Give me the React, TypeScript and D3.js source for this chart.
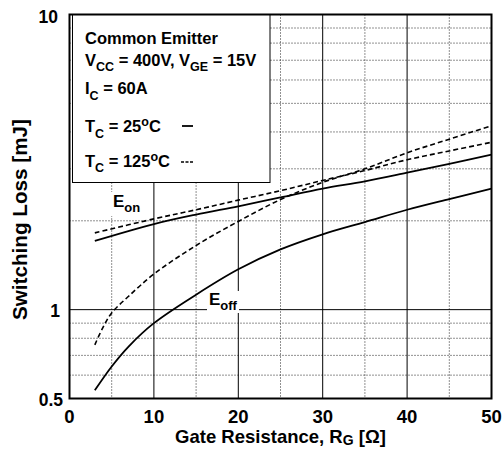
import React from "react";
import * as d3 from "d3";

const W = 503;
const H = 458;

// Data
const rgOn = [3, 10, 15, 20, 25, 30, 35, 40, 45, 50];
const eon25 = [1.71, 1.95, 2.1, 2.24, 2.4, 2.57, 2.72, 2.91, 3.12, 3.35];
const eon125 = [1.82, 2.03, 2.18, 2.35, 2.53, 2.74, 2.96, 3.22, 3.45, 3.69];

const rgOff125 = [3, 4, 5, 7, 10, 15, 20, 25, 30, 35, 40, 45, 50];
const eoff125 = [0.76, 0.875, 0.975, 1.11, 1.32, 1.65, 1.99, 2.36, 2.7, 3.0, 3.4, 3.78, 4.2];

const rgOff25 = [3, 5, 7, 10, 15, 20, 25, 30, 35, 40, 45, 50];
const eoff25 = [0.533, 0.642, 0.75, 0.9, 1.124, 1.37, 1.6, 1.8, 1.98, 2.18, 2.37, 2.57];

const xTicks = [0, 10, 20, 30, 40, 50];
const xMinorGrid = [5, 15, 25, 35, 45];
const yTickLabels = [0.5, 1, 10];
const yMinorGrid = [0.6, 0.7, 0.8, 0.9, 2, 3, 4, 5, 6, 7, 8, 9];
const yMajorGrid = [1];

const FONT = "Arial, 'Liberation Sans', Helvetica, sans-serif";

const x = d3.scaleLinear().domain([0, 50]).range([69.5, 491.5]);
const y = d3.scaleLog().domain([0.5, 10]).range([398.5, 14.5]);

const line = (xs: number[], ys: number[]) =>
  d3
    .line<number>()
    .x((_, i) => x(xs[i]))
    .y((d) => y(d))
    .curve(d3.curveCatmullRom.alpha(0.5))(ys) || "";

type Seg = [string, "n" | "sub" | "sup"];

// Rich text: normal / subscript / superscript segments
const Rich = ({
  segs,
  size,
  subSize,
  subShift = 5.5,
  supShift = 6,
}: {
  segs: Seg[];
  size: number;
  subSize: number;
  subShift?: number;
  supShift?: number;
}) => {
  let cur = 0;
  return (
    <>
      {segs.map(([t, k], i) => {
        const target = k === "sub" ? subShift : k === "sup" ? -supShift : 0;
        const dy = target - cur;
        cur = target;
        return (
          <tspan key={i} dy={dy} fontSize={k === "n" ? size : subSize}>
            {t}
          </tspan>
        );
      })}
    </>
  );
};

export default function App() {
  const [x0, x1] = x.range();
  const [y0, y1] = y.range();
  const LS = 16.5;
  const LSS = 12.5;
  return (
    <svg
      width={W}
      height={H}
      style={{ position: "absolute", left: 0, top: 0, display: "block", background: "#fff" }}
      fontFamily={FONT}
      fontWeight="bold"
    >
      <rect x={0} y={0} width={W} height={H} fill="#fff" />
      {/* grid */}
      {xMinorGrid.map((v) => (
        <line key={"xm" + v} x1={x(v)} x2={x(v)} y1={y1} y2={y0} stroke="#222" strokeWidth={1} strokeDasharray="1,2" />
      ))}
      {yMinorGrid.map((v) => (
        <line key={"ym" + v} x1={x0} x2={x1} y1={y(v)} y2={y(v)} stroke="#222" strokeWidth={1} strokeDasharray="1,2" />
      ))}
      {xTicks.slice(1, -1).map((v) => (
        <line key={"xM" + v} x1={x(v)} x2={x(v)} y1={y1} y2={y0} stroke="#000" strokeWidth={1} />
      ))}
      {yMajorGrid.map((v) => (
        <line key={"yM" + v} x1={x0} x2={x1} y1={y(v)} y2={y(v)} stroke="#000" strokeWidth={1} />
      ))}

      {/* curves */}
      <path d={line(rgOn, eon25)} fill="none" stroke="#000" strokeWidth={1.8} />
      <path d={line(rgOn, eon125)} fill="none" stroke="#000" strokeWidth={1.6} strokeDasharray="5,3" />
      <path d={line(rgOff125, eoff125)} fill="none" stroke="#000" strokeWidth={1.6} strokeDasharray="5,3" />
      <path d={line(rgOff25, eoff25)} fill="none" stroke="#000" strokeWidth={1.8} />

      {/* curve labels */}
      <rect x={111} y={192} width={27} height={24} fill="#fff" />
      <text x={113} y={207}>
        <Rich segs={[["E", "n"], ["on", "sub"]]} size={17} subSize={13} subShift={5} />
      </text>
      <rect x={207} y={291} width={32} height={22} fill="#fff" />
      <text x={209} y={305}>
        <Rich segs={[["E", "n"], ["off", "sub"]]} size={17} subSize={13} subShift={5} />
      </text>

      {/* legend box */}
      <rect x={72.5} y={14.5} width={197.5} height={168} fill="#fff" stroke="#000" strokeWidth={1} />
      <text x={85} y={44} fontSize={LS}>
        Common Emitter
      </text>
      <text x={85} y={65.5}>
        <Rich
          segs={[["V", "n"], ["CC", "sub"], [" = 400V, V", "n"], ["GE", "sub"], [" = 15V", "n"]]}
          size={LS}
          subSize={LSS}
        />
      </text>
      <text x={85} y={94}>
        <Rich segs={[["I", "n"], ["C", "sub"], [" = 60A", "n"]]} size={LS} subSize={LSS} />
      </text>
      <text x={85} y={132}>
        <Rich segs={[["T", "n"], ["C", "sub"], [" = 25", "n"], ["o", "sup"], ["C", "n"]]} size={LS} subSize={LSS} />
      </text>
      <text x={85} y={166.5}>
        <Rich segs={[["T", "n"], ["C", "sub"], [" = 125", "n"], ["o", "sup"], ["C", "n"]]} size={LS} subSize={LSS} />
      </text>
      <line x1={182} x2={193} y1={126} y2={126} stroke="#000" strokeWidth={1.8} />
      <line x1={181} x2={193} y1={162} y2={162} stroke="#000" strokeWidth={1.5} strokeDasharray="3,1.5" />

      {/* frame */}
      <rect x={x0} y={y1} width={x1 - x0} height={y0 - y1} fill="none" stroke="#000" strokeWidth={2} />

      {/* tick labels */}
      {xTicks.map((v) => (
        <text key={"xt" + v} x={x(v)} y={422.5} fontSize={18.5} textAnchor="middle">
          {v}
        </text>
      ))}
      {yTickLabels.map((v) => (
        <text
          key={"yt" + v}
          x={v === 0.5 ? 63 : v === 1 ? 60 : 58}
          y={v === 10 ? 23 : y(v) + 7}
          fontSize={17.5}
          textAnchor="end"
        >
          {v}
        </text>
      ))}

      {/* axis titles */}
      <text x={(x0 + x1) / 2} y={443} textAnchor="middle">
        <Rich
          segs={[["Gate Resistance, R", "n"], ["G", "sub"], [" [Ω]", "n"]]}
          size={18.5}
          subSize={14}
          subShift={1.5}
        />
      </text>
      <text
        transform={`translate(27, ${(y0 + y1) / 2 + 13}) rotate(-90)`}
        fontSize={20}
        textAnchor="middle"
        textLength={201}
        lengthAdjust="spacingAndGlyphs"
      >
        Switching Loss [mJ]
      </text>
    </svg>
  );
}
